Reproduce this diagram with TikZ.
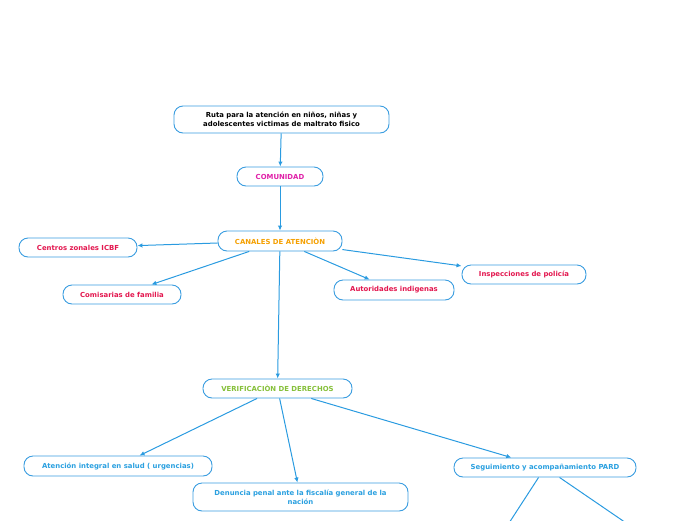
\documentclass[tikz,border=0pt]{standalone}
\usepackage{fontspec}
\setmainfont{DejaVu Sans}
\usetikzlibrary{arrows.meta}
\definecolor{lineblue}{HTML}{2A9BE0}
\definecolor{boxblue}{HTML}{3A9DE0}
\definecolor{cmag}{HTML}{E01FA8}
\definecolor{corange}{HTML}{F5A000}
\definecolor{ccrim}{HTML}{E3174F}
\definecolor{cgreen}{HTML}{86C03A}
\definecolor{cblue}{HTML}{2AA0E0}
\tikzset{
  box/.style={draw=boxblue, line width=0.9pt, rounded corners=9pt, fill=white,
    inner sep=0pt, align=center, font=\fontsize{6.9}{9}\selectfont\bfseries},
  conn/.style={draw=lineblue, line width=1pt, -{Latex[length=5pt,width=4.5pt]}},
  plain/.style={draw=lineblue, line width=1pt},
}
\begin{document}
\begin{tikzpicture}[x=1pt,y=-1pt]
\clip (0,0) rectangle (696,520);
\useasboundingbox (0,0) rectangle (696,520);
\node[box, minimum width=215pt, minimum height=27pt, text width=205pt] (title) at (281.5,119.5) {Ruta para la atención en niños, niñas y\\adolescentes victimas de maltrato fisico};
\node[box, minimum width=86pt, minimum height=19pt, text=cmag] (comunidad) at (280,176.5) {COMUNIDAD};
\node[box, minimum width=124pt, minimum height=20pt, text=corange] (canales) at (280,241) {CANALES DE ATENCIÒN};
\node[box, minimum width=118pt, minimum height=19pt, text=ccrim] (centros) at (78,247.5) {Centros zonales ICBF};
\node[box, minimum width=118pt, minimum height=19pt, text=ccrim] (comisarias) at (122,294.5) {Comisarias de familia};
\node[box, minimum width=120pt, minimum height=20pt, text=ccrim] (autoridades) at (394,290) {Autoridades indigenas};
\node[box, minimum width=124pt, minimum height=19pt, text=ccrim] (inspecciones) at (524,274.5) {Inspecciones de policía};
\node[box, minimum width=149pt, minimum height=19pt, text=cgreen] (verif) at (277.5,388.5) {VERIFICACIÒN DE DERECHOS};
\node[box, minimum width=188pt, minimum height=20pt, text=cblue] (atencion) at (118,466) {Atención integral en salud ( urgencias)};
\node[box, minimum width=215pt, minimum height=28pt, text width=208pt, text=cblue] (denuncia) at (300.5,497) {Denuncia penal ante la fiscalía general de la\\nación};
\node[box, minimum width=182pt, minimum height=19pt, text=cblue] (segui) at (545,467.5) {Seguimiento y acompañamiento PARD};
\coordinate (offa) at (498,540);
\coordinate (offb) at (651,540);
\draw[conn] (title) -- (comunidad);
\draw[conn] (comunidad) -- (canales);
\draw[conn] (canales) -- (centros);
\draw[conn] (canales) -- (comisarias);
\draw[conn] (canales) -- (autoridades);
\draw[conn] (canales) -- (inspecciones);
\draw[conn] (canales) -- (verif);
\draw[conn] (verif) -- (atencion);
\draw[conn] (verif) -- (denuncia);
\draw[conn] (verif) -- (segui);
\draw[plain] (segui) -- (offa);
\draw[plain] (segui) -- (offb);
\end{tikzpicture}
\end{document}
